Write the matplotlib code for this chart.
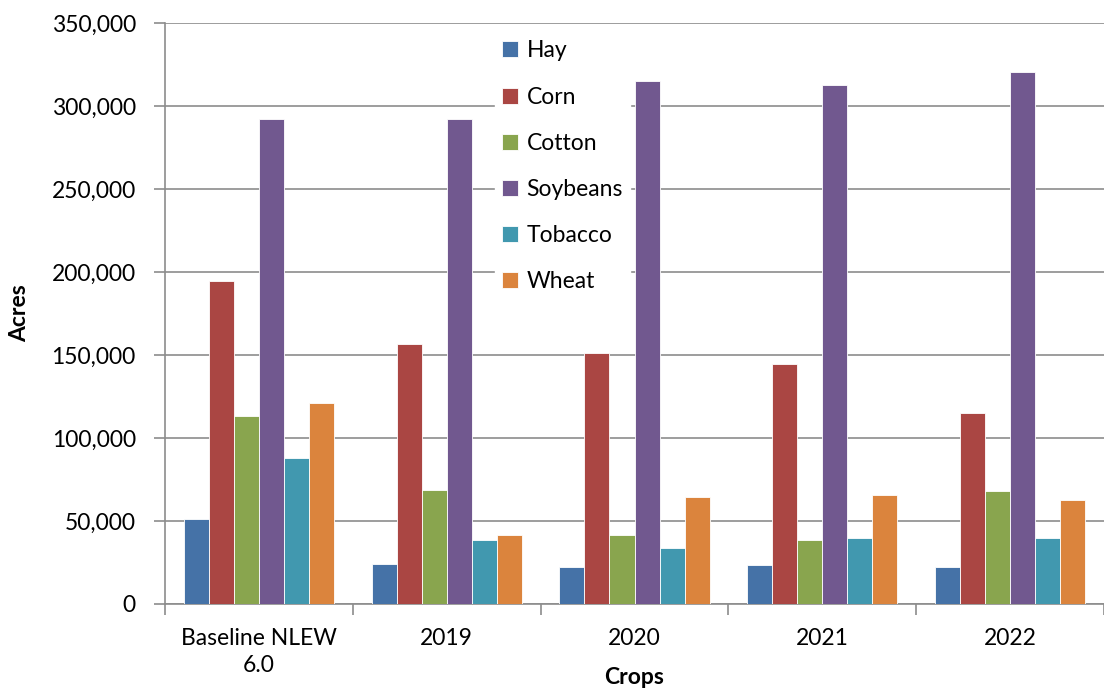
import matplotlib
matplotlib.use("Agg")
import matplotlib.pyplot as plt
import numpy as np
from matplotlib.ticker import FuncFormatter

categories = ["Baseline NLEW\n6.0", "2019", "2020", "2021", "2022"]
series_names = ["Hay", "Corn", "Cotton", "Soybeans", "Tobacco", "Wheat"]
hay = [51200, 24100, 22300, 23500, 22300]
corn = [194600, 156500, 151200, 144800, 115000]
cotton = [113300, 68800, 41600, 38600, 68200]
soybeans = [292200, 292100, 315100, 312900, 320600]
tobacco = [88000, 38700, 33800, 39700, 39900]
wheat = [121200, 41600, 64500, 65600, 62700]
colors = ["#4572A7", "#AA4643", "#89A54E", "#71588F", "#4198AF", "#DB843D"]

data = [hay, corn, cotton, soybeans, tobacco, wheat]

plt.rcParams['font.family'] = ['Lato', 'DejaVu Sans']
fs = 16.5
fig = plt.figure(figsize=(11.04, 6.89), dpi=100)
ax = fig.add_axes([165/1104, 85/689, (1104-165)/1104, (604-23)/689])

x = np.arange(len(categories))
n = len(series_names)
total = 0.8
w = total / n
for i, (name, vals, c) in enumerate(zip(series_names, data, colors)):
    ax.bar(x - total/2 + w*(i+0.5), vals, width=w, color=c, label=name,
           edgecolor="white", linewidth=0.6, zorder=3)

ax.set_xlim(-0.5, len(categories)-0.5)
ax.set_ylim(0, 350000)
ax.set_yticks(np.arange(0, 350001, 50000))
ax.yaxis.set_major_formatter(FuncFormatter(lambda v, p: f"{int(v):,}"))
ax.grid(axis='y', color='#8c8c8c', linewidth=1.2, zorder=0)
ax.set_axisbelow(True)

ax.set_xticks(x)
ax.set_xticklabels(categories, linespacing=1.35)
ax.set_xticks(np.arange(-0.5, len(categories), 1.0), minor=True)
ax.tick_params(axis='x', which='major', length=0, pad=17, labelsize=fs, colors='black')
ax.tick_params(axis='x', which='minor', length=8, width=1.2, color='#8c8c8c', direction='out')
ax.tick_params(axis='y', which='major', length=8, width=1.2, color='#8c8c8c', labelsize=fs, pad=13)

for s in ['top', 'right']:
    ax.spines[s].set_visible(False)
for s in ['left', 'bottom']:
    ax.spines[s].set_color('#8c8c8c')
    ax.spines[s].set_linewidth(1.2)

ax.set_ylabel("Acres", fontsize=fs, fontweight='bold', va='center')
ax.yaxis.set_label_coords(-(165-20)/939, 0.5)
ax.set_xlabel("Crops", fontsize=fs, fontweight='bold', va='center')
ax.xaxis.set_label_coords(0.5, -(678-604)/581)

leg = ax.legend(loc='upper left', bbox_to_anchor=(484/1104, 1-22/689),
                bbox_transform=fig.transFigure, frameon=True, fontsize=fs,
                handlelength=0.7, handleheight=0.7, handletextpad=0.35,
                labelspacing=1.1, borderpad=0.3, fancybox=False)
leg.get_frame().set_edgecolor('white')
leg.get_frame().set_facecolor('white')
leg.get_frame().set_alpha(1.0)

fig.savefig("out.png", dpi=100)
